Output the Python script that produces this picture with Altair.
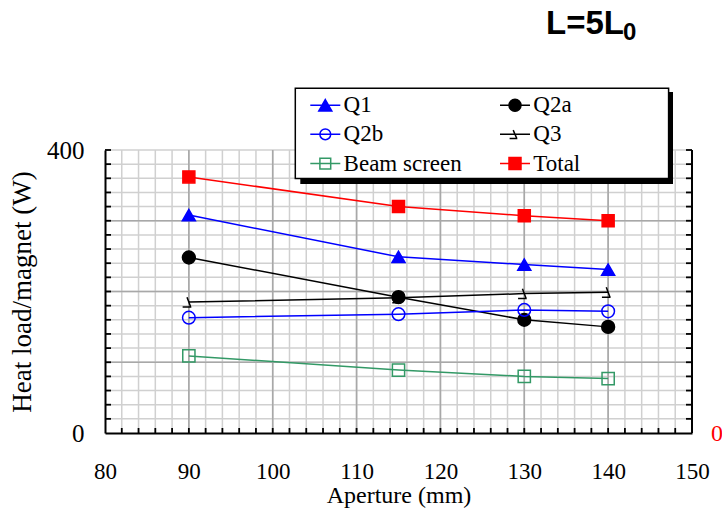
import altair as alt
import pandas as pd

# ---------------- data ----------------
aperture = [90, 115, 130, 140]
series_names = ["Q1", "Q2a", "Q2b", "Q3", "Beam screen", "Total"]
q1 = [308, 249, 238, 231]
q2a = [248, 192, 160, 150]
q2b = [163, 168, 174, 172]
q3 = [185, 191, 197, 199]
beam_screen = [109, 89, 80, 77]
total = [362, 320, 307, 300]

x_tick_labels = [80, 90, 100, 110, 120, 130, 140, 150]
y_tick_labels = [0, 400]
x_minor = list(range(82, 150, 2))
x_major = [90, 100, 110, 120, 130, 140]
y_minor = list(range(20, 401, 20))
y_major = [100, 200, 300]
x_ticks = list(range(82, 150, 2))
y_ticks = list(range(20, 401, 20))

# legend reading order (legend fills column by column)
legend_order = ["Q1", "Q2b", "Beam screen", "Q2a", "Q3", "Total"]

# ---------------- styles ----------------
stroke_map = {"Q1": "#0000ff", "Q2a": "#000000", "Q2b": "#0000ff", "Q3": "#000000",
              "Beam screen": "#339966", "Total": "#ff0000"}
fill_map = {"Q1": "#0000ff", "Q2a": "#000000", "Q2b": "transparent", "Q3": "transparent",
            "Beam screen": "transparent", "Total": "#ff0000"}
Q3_GLYPH = "M-0.3,-0.8 L0.3,0.8 M-1,0.8 L0.4,0.8"
shape_map = {"Q1": "triangle-up", "Q2a": "circle", "Q2b": "circle", "Q3": Q3_GLYPH,
             "Beam screen": "square", "Total": "square"}
size_map = {"Q1": 170, "Q2a": 144, "Q2b": 121, "Q3": 100, "Beam screen": 121, "Total": 140}

LINE = "M-1.917,0 L3.083,0 "
legend_shape_map = {
    "Q1": LINE + "M0.583,-0.94 L1.666,0.94 L-0.5,0.94 Z",
    "Q2a": LINE + "M1.583,0 A1,1 0 1,1 -0.417,0 A1,1 0 1,1 1.583,0 Z",
    "Q2b": LINE + "M1.483,0 A0.9,0.9 0 1,1 -0.317,0 A0.9,0.9 0 1,1 1.483,0 Z",
    "Q3": LINE + "M0.283,-0.7 L0.883,0.7 M-0.317,0.7 L0.983,0.7",
    "Beam screen": LINE + "M-0.317,-0.9 L1.483,-0.9 L1.483,0.9 L-0.317,0.9 Z",
    "Total": LINE + "M-0.417,-1 L1.583,-1 L1.583,1 L-0.417,1 Z",
}

W, H = 587, 283
SERIF = "Liberation Serif"

values = [q1, q2a, q2b, q3, beam_screen, total]
rows = []
for name, vals in zip(series_names, values):
    for a, v in zip(aperture, vals):
        rows.append({"aperture": a, "heat": v, "series": name})
df = pd.DataFrame(rows)

xs = alt.Scale(domain=[80, 150], nice=False, zero=False)
ys = alt.Scale(domain=[0, 400], nice=False, zero=False)

xaxis = alt.Axis(
    values=x_tick_labels, ticks=False, tickSize=0, grid=False,
    domainColor="black", domainWidth=2,
    labelPadding=27, labelFlush=False, labelOverlap=False,
    title="Aperture (mm)", titlePadding=0, zindex=1,
)
yaxis = alt.Axis(
    values=y_tick_labels, ticks=False, tickSize=0, grid=False,
    domainColor="black", domainWidth=2,
    labelFontSize=25, labelPadding=21, labelFlush=False, labelOverlap=False,
    title="Heat load/magnet (W)", titleFontSize=27, titlePadding=10, zindex=1,
)


def X(field):
    return alt.X(field, type="quantitative", scale=xs, axis=xaxis)


def Y(field):
    return alt.Y(field, type="quantitative", scale=ys, axis=yaxis)


def sc(order, mapping):
    return alt.Scale(domain=order, range=[mapping[n] for n in order])


# ---------------- grid ----------------
gx_minor = alt.Chart(pd.DataFrame({"v": x_minor})).mark_rule(
    color="#d0d0d0", strokeWidth=1.5).encode(x=X("v"), y=alt.value(0), y2=alt.value(H))
gy_minor = alt.Chart(pd.DataFrame({"v": y_minor})).mark_rule(
    color="#d0d0d0", strokeWidth=1.5).encode(y=Y("v"), x=alt.value(0), x2=alt.value(W))
gx_major = alt.Chart(pd.DataFrame({"v": x_major})).mark_rule(
    color="#a8a8a8", strokeWidth=1.6).encode(x=X("v"), y=alt.value(0), y2=alt.value(H))
gy_major = alt.Chart(pd.DataFrame({"v": y_major})).mark_rule(
    color="#a8a8a8", strokeWidth=1.6).encode(y=Y("v"), x=alt.value(0), x2=alt.value(W))

# ---------------- ticks & right border ----------------
ticks_left = alt.Chart(pd.DataFrame({"v": y_ticks})).mark_rule(
    color="black", strokeWidth=1.8).encode(y=Y("v"), x=alt.value(0), x2=alt.value(6))
ticks_right = alt.Chart(pd.DataFrame({"v": y_ticks})).mark_rule(
    color="black", strokeWidth=1.8).encode(y=Y("v"), x=alt.value(W - 6), x2=alt.value(W))
ticks_bottom = alt.Chart(pd.DataFrame({"v": x_ticks})).mark_rule(
    color="black", strokeWidth=1.8).encode(x=X("v"), y=alt.value(H - 5), y2=alt.value(H))
right_border = alt.Chart(pd.DataFrame({"v": [150]})).mark_rule(
    color="black", strokeWidth=2).encode(x=X("v"), y=alt.value(0), y2=alt.value(H))

# ---------------- series ----------------
lines = alt.Chart(df).mark_line(strokeWidth=1.5).encode(
    x=X("aperture"), y=Y("heat"),
    stroke=alt.Stroke("series:N", scale=sc(series_names, stroke_map), legend=None),
    detail="series:N",
)
points = alt.Chart(df).mark_point(filled=False, strokeWidth=1.5, opacity=1).encode(
    x=X("aperture"), y=Y("heat"),
    stroke=alt.Stroke("series:N", scale=sc(series_names, stroke_map), legend=None),
    fill=alt.Fill("series:N", scale=sc(series_names, fill_map), legend=None),
    shape=alt.Shape("series:N", scale=sc(series_names, shape_map), legend=None),
    size=alt.Size("series:N", scale=sc(series_names, size_map), legend=None),
)

# ---------------- legend box ----------------
one = pd.DataFrame({"k": [0]})
shadow = alt.Chart(one).mark_rect(color="black").encode(
    x=alt.value(195.3), x2=alt.value(568), y=alt.value(-58), y2=alt.value(34))
box = alt.Chart(one).mark_rect(fill="white", stroke="black", strokeWidth=1.5).encode(
    x=alt.value(190.3), x2=alt.value(563.6), y=alt.value(-61.7), y2=alt.value(28.5))

leg = alt.Legend(
    title=None, orient="none", legendX=205.3, legendY=-56.5, columns=2,
    columnPadding=33.7, rowPadding=5.3, padding=0,
    labelOffset=10.3, labelLimit=400, symbolSize=144, symbolStrokeWidth=1.5,
)
legend_layer = alt.Chart(df).transform_filter("false").mark_point(
    filled=False, strokeWidth=1.5, opacity=1).encode(
    x=X("aperture"), y=Y("heat"),
    stroke=alt.Stroke("series:N", scale=sc(legend_order, stroke_map), legend=leg),
    fill=alt.Fill("series:N", scale=sc(legend_order, fill_map), legend=leg),
    shape=alt.Shape("series:N", scale=sc(legend_order, legend_shape_map), legend=leg),
)

# ---------------- annotations ----------------
title_main = alt.Chart(one).mark_text(
    text="L=5L", font="Liberation Sans", fontSize=33, fontWeight="bold",
    align="right", baseline="alphabetic", color="black").encode(
    x=alt.value(519), y=alt.value(-116))
title_sub = alt.Chart(one).mark_text(
    text="0", font="Liberation Sans", fontSize=24, fontWeight="bold",
    align="left", baseline="alphabetic", color="black").encode(
    x=alt.value(518), y=alt.value(-110))
right_zero = alt.Chart(one).mark_text(
    text="0", font=SERIF, fontSize=24, align="center", baseline="middle",
    color="#ff0000").encode(x=alt.value(612), y=alt.value(284))

chart = alt.layer(
    gx_minor, gy_minor, gx_major, gy_major,
    ticks_left, ticks_right, ticks_bottom, right_border,
    lines, points, shadow, box, legend_layer,
    title_main, title_sub, right_zero,
).resolve_scale(
    stroke="independent", fill="independent", shape="independent", size="independent"
).properties(
    width=W, height=H,
    padding={"left": 105, "top": 150, "right": 30, "bottom": 76},
    autosize=alt.AutoSizeParams(type="none"),
    background="white",
).configure_view(
    stroke=None
).configure_axis(
    labelFont=SERIF, labelFontSize=23, labelColor="black",
    titleFont=SERIF, titleFontSize=24, titleFontWeight="normal", titleColor="black",
).configure_legend(
    labelFont=SERIF, labelFontSize=23, labelColor="black",
)

chart.save("out.html", embed_options={"renderer": "svg", "actions": False})
